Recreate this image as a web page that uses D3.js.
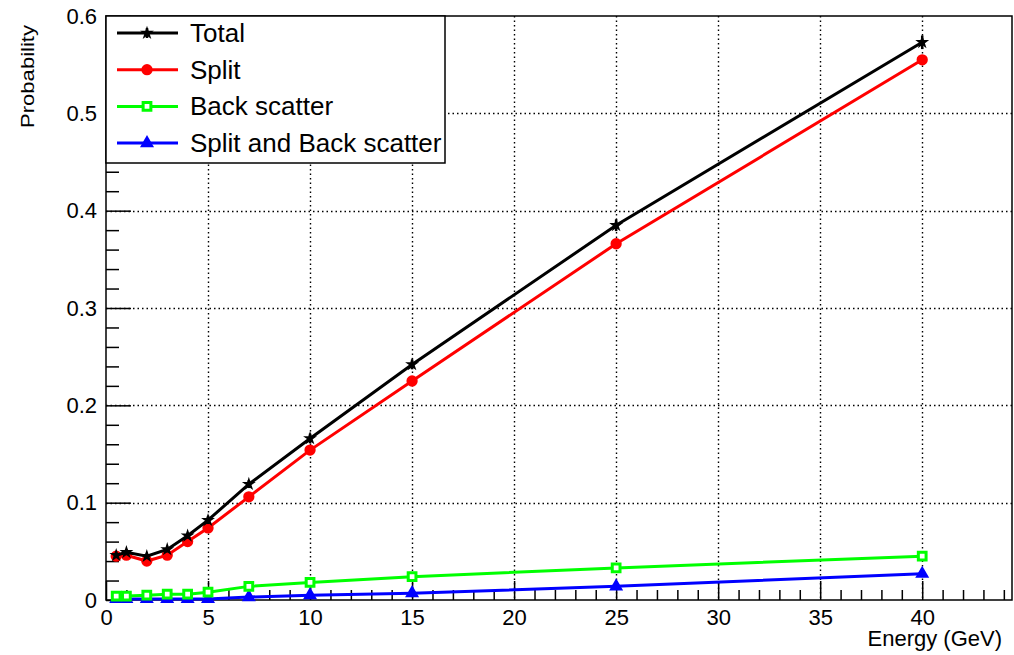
<!DOCTYPE html>
<html>
<head>
<meta charset="utf-8">
<script src="https://cdn.jsdelivr.net/npm/d3@7"></script>
<style>
  html, body { margin: 0; padding: 0; background: #fff; overflow: hidden; }
  svg { display: block; }
  text { font-family: "Liberation Sans", Arial, sans-serif; }
</style>
</head>
<body>
<div id="chart"></div>
<script>
// Data
const energies = [0.5, 1, 2, 3, 4, 5, 7, 10, 15, 25, 40];
const total = [0.046, 0.049, 0.045, 0.052, 0.066, 0.082, 0.119, 0.166, 0.242, 0.385, 0.573];
const totalErr = [0.003, 0.003, 0.003, 0.003, 0.003, 0.004, 0.004, 0.005, 0.005, 0.006, 0.007];
const split = [0.045, 0.046, 0.040, 0.046, 0.060, 0.074, 0.106, 0.154, 0.225, 0.366, 0.555];
const backScatter = [0.004, 0.004, 0.005, 0.006, 0.006, 0.008, 0.014, 0.018, 0.024, 0.033, 0.045];
const splitBack = [0.001, 0.001, 0.001, 0.001, 0.001, 0.001, 0.003, 0.005, 0.007, 0.014, 0.027];
const xTicks = [0, 5, 10, 15, 20, 25, 30, 35, 40];
const yTicks = [0, 0.1, 0.2, 0.3, 0.4, 0.5, 0.6];

const series = [
  { name: "Total", values: total, color: "#000", marker: "star" },
  { name: "Split", values: split, color: "#ff0000", marker: "circle" },
  { name: "Back scatter", values: backScatter, color: "#00ff00", marker: "square" },
  { name: "Split and Back scatter", values: splitBack, color: "#0000ff", marker: "triangle" }
];

const width = 1014, height = 655;
const margin = { left: 106, right: 2, top: 16, bottom: 55 };
const innerWidth = width - margin.left - margin.right;
const innerHeight = height - margin.top - margin.bottom;

const svg = d3.select("#chart")
  .append("svg")
    .attr("width", width)
    .attr("height", height);

const innerChart = svg
  .append("g")
    .attr("transform", `translate(${margin.left}, ${margin.top})`);

/****************************/
/*    Declare the scales    */
/****************************/
const xScale = d3.scaleLinear()
  .domain([0, 44.4])
  .range([0, innerWidth]);

const yScale = d3.scaleLinear()
  .domain([0, 0.6])
  .range([innerHeight, 0]);

/****************************/
/*       Grid lines         */
/****************************/
const snap = v => Math.round(v) + 0.5;

innerChart.append("g")
  .selectAll("line")
  .data(xTicks.filter(d => d > 0))
  .join("line")
    .attr("x1", d => snap(xScale(d)))
    .attr("x2", d => snap(xScale(d)))
    .attr("y1", 0)
    .attr("y2", innerHeight)
    .attr("stroke", "#000")
    .attr("stroke-width", 1.4)
    .attr("stroke-dasharray", "1.5,3");

innerChart.append("g")
  .selectAll("line")
  .data(yTicks.filter(d => d > 0 && d < 0.6))
  .join("line")
    .attr("x1", 0)
    .attr("x2", innerWidth)
    .attr("y1", d => snap(yScale(d)))
    .attr("y2", d => snap(yScale(d)))
    .attr("stroke", "#000")
    .attr("stroke-width", 1.4)
    .attr("stroke-dasharray", "1.5,3");

/****************************/
/*         Axes             */
/****************************/
// Bottom axis: ticks point inward (upwards)
const xMinor = d3.range(0, 45, 1).filter(d => d % 5 !== 0);
const bottomAxis = innerChart.append("g")
  .attr("transform", `translate(0, ${innerHeight})`);
bottomAxis.call(d3.axisBottom(xScale).tickValues(xTicks).tickSize(-19).tickPadding(9).tickFormat(d3.format("d")));
bottomAxis.append("g")
  .attr("class", "minor")
  .call(d3.axisBottom(xScale).tickValues(xMinor).tickSize(-10).tickFormat(""));

// Left axis: ticks point inward (to the right)
const yMinor = d3.range(0, 31).map(i => i * 0.02).filter((d, i) => i % 5 !== 0);
const leftAxis = innerChart.append("g");
leftAxis.call(d3.axisLeft(yScale).tickValues(yTicks).tickSize(-25).tickPadding(9)
  .tickFormat(d => d === 0 ? "0" : d3.format(".1f")(d)));
leftAxis.append("g")
  .attr("class", "minor")
  .call(d3.axisLeft(yScale).tickValues(yMinor).tickSize(-13).tickFormat(""));

svg.selectAll(".minor text").remove();
svg.selectAll(".domain").remove();
svg.selectAll(".tick line").attr("stroke", "#000").attr("stroke-width", 1.5);
svg.selectAll(".tick text")
  .attr("font-size", 22)
  .attr("fill", "#000");

// Frame
innerChart.append("rect")
  .attr("x", 0)
  .attr("y", 0)
  .attr("width", innerWidth)
  .attr("height", innerHeight)
  .attr("fill", "none")
  .attr("stroke", "#000")
  .attr("stroke-width", 1.5);

// Axis labels
svg.append("text")
  .text("Energy (GeV)")
  .attr("text-anchor", "end")
  .attr("x", 1002)
  .attr("y", 646)
  .attr("font-size", 22);

svg.append("text")
  .text("Probability")
  .attr("text-anchor", "end")
  .attr("transform", "translate(34, 25) rotate(-90)")
  .attr("font-size", 18)
  .attr("textLength", 103)
  .attr("lengthAdjust", "spacingAndGlyphs");

/****************************/
/*     Marker helpers       */
/****************************/
const symbolFor = {
  star: d3.symbol(d3.symbolStar, 60),
  circle: d3.symbol(d3.symbolCircle, 100),
  square: d3.symbol(d3.symbolSquare, 60),
  triangle: d3.symbol(d3.symbolTriangle, 85)
};

const drawMarker = (g, s) => {
  const m = g.append("path").attr("d", symbolFor[s.marker]());
  if (s.marker === "square") {
    m.attr("fill", "#fff").attr("stroke", s.color).attr("stroke-width", 3);
  } else {
    m.attr("fill", s.color);
  }
};

/****************************/
/*       Series lines       */
/****************************/
const lineGenerator = d3.line()
  .x(d => xScale(d[0]))
  .y(d => yScale(d[1]));

series.slice().reverse().forEach(s => {
  const pts = energies.map((e, i) => [e, s.values[i]]);
  innerChart.append("path")
    .attr("d", lineGenerator(pts))
    .attr("fill", "none")
    .attr("stroke", s.color)
    .attr("stroke-width", 3);

  if (s.name === "Total") {
    innerChart.append("g")
      .selectAll("line")
      .data(pts)
      .join("line")
        .attr("x1", d => xScale(d[0]))
        .attr("x2", d => xScale(d[0]))
        .attr("y1", (d, i) => yScale(d[1] - totalErr[i]))
        .attr("y2", (d, i) => yScale(d[1] + totalErr[i]))
        .attr("stroke", "#000")
        .attr("stroke-width", 2.5);
  }

  pts.forEach(p => {
    const g = innerChart.append("g")
      .attr("transform", `translate(${xScale(p[0])}, ${yScale(p[1])})`);
    drawMarker(g, s);
  });
});

/****************************/
/*         Legend           */
/****************************/
const legend = svg.append("g");
legend.append("rect")
  .attr("x", 106)
  .attr("y", 16)
  .attr("width", 339)
  .attr("height", 147)
  .attr("fill", "#fff")
  .attr("stroke", "#000")
  .attr("stroke-width", 1.5);

series.forEach((s, i) => {
  const cy = 33 + i * 36.7;
  const row = legend.append("g");
  row.append("line")
    .attr("x1", 117)
    .attr("x2", 178)
    .attr("y1", cy)
    .attr("y2", cy)
    .attr("stroke", s.color)
    .attr("stroke-width", 3);
  if (s.name === "Total") {
    row.append("line")
      .attr("x1", 147).attr("x2", 147)
      .attr("y1", cy - 5).attr("y2", cy + 5)
      .attr("stroke", "#000").attr("stroke-width", 2.5);
  }
  const g = row.append("g").attr("transform", `translate(147, ${cy})`);
  drawMarker(g, s);
  row.append("text")
    .text(s.name)
    .attr("x", 190)
    .attr("y", cy + 9)
    .attr("font-size", 26);
});
</script>
</body>
</html>
